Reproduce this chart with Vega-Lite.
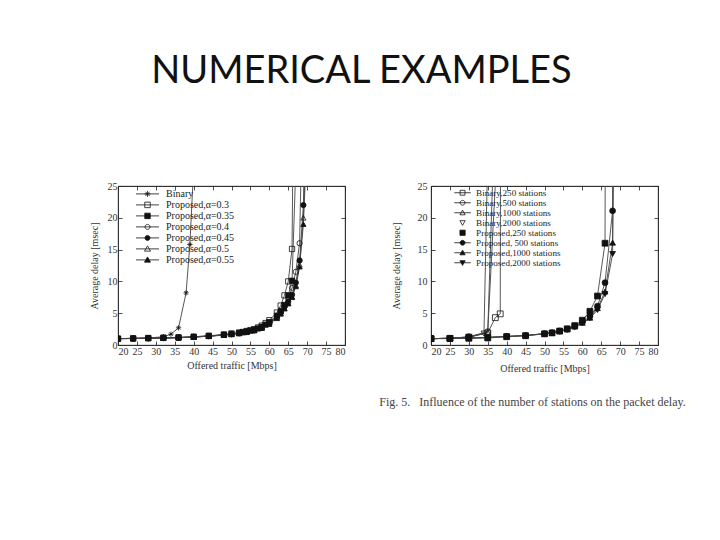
{
  "$schema": "https://vega.github.io/schema/vega-lite/v6.json",
  "background": "white",
  "padding": {"left": 88, "top": 52, "right": 0, "bottom": 0},
  "title": {"text": "NUMERICAL EXAMPLES", "font": "Lato", "fontSize": 38, "fontWeight": "normal", "color": "#111", "anchor": "middle", "offset": 90, "dx": -26},
  "spacing": 32,
  "config": {
    "view": {"stroke": "#222", "strokeWidth": 0.8},
    "axis": {"grid": false, "labelFont": "Liberation Serif", "titleFont": "Liberation Serif", "labelFontSize": 10, "titleFontSize": 10, "titleFontWeight": "normal", "labelColor": "#333", "titleColor": "#333", "domainColor": "#222", "domainWidth": 0.8, "tickColor": "#222", "tickWidth": 0.8, "tickSize": -4, "labelPadding": 5, "titlePadding": 4},
    "legend": {"labelFont": "Liberation Serif", "labelColor": "#222"}
  },
  "hconcat": [
    {
      "width": 227, "height": 159,
      "data": {"values": [
        {"s":"Binary","x":20,"y":1.0},{"s":"Binary","x":24,"y":1.05},{"s":"Binary","x":28,"y":1.1},{"s":"Binary","x":32,"y":1.3},{"s":"Binary","x":34,"y":1.7},{"s":"Binary","x":36,"y":2.7},{"s":"Binary","x":38,"y":8.2},{"s":"Binary","x":39,"y":15.8},{"s":"Binary","x":40,"y":28},
        {"s":"Proposed,α=0.3","x":20,"y":1.0},{"s":"Proposed,α=0.3","x":24,"y":1.05},{"s":"Proposed,α=0.3","x":28,"y":1.1},{"s":"Proposed,α=0.3","x":32,"y":1.15},{"s":"Proposed,α=0.3","x":36,"y":1.2},{"s":"Proposed,α=0.3","x":40,"y":1.3},{"s":"Proposed,α=0.3","x":44,"y":1.45},{"s":"Proposed,α=0.3","x":48,"y":1.65},{"s":"Proposed,α=0.3","x":50,"y":1.8},{"s":"Proposed,α=0.3","x":52,"y":1.95},{"s":"Proposed,α=0.3","x":53,"y":2.05},{"s":"Proposed,α=0.3","x":54,"y":2.2},{"s":"Proposed,α=0.3","x":55,"y":2.35},{"s":"Proposed,α=0.3","x":56,"y":2.5},{"s":"Proposed,α=0.3","x":57,"y":2.75},{"s":"Proposed,α=0.3","x":58,"y":3.05},{"s":"Proposed,α=0.3","x":59,"y":3.45},{"s":"Proposed,α=0.3","x":60,"y":3.9},{"s":"Proposed,α=0.3","x":62,"y":5.1},{"s":"Proposed,α=0.3","x":63,"y":6.2},{"s":"Proposed,α=0.3","x":64,"y":7.8},{"s":"Proposed,α=0.3","x":65,"y":10.0},{"s":"Proposed,α=0.3","x":66,"y":15.1},{"s":"Proposed,α=0.3","x":66.4,"y":40},
        {"s":"Proposed,α=0.35","x":20,"y":1.0},{"s":"Proposed,α=0.35","x":24,"y":1.03},{"s":"Proposed,α=0.35","x":28,"y":1.08},{"s":"Proposed,α=0.35","x":32,"y":1.12},{"s":"Proposed,α=0.35","x":36,"y":1.18},{"s":"Proposed,α=0.35","x":40,"y":1.28},{"s":"Proposed,α=0.35","x":44,"y":1.42},{"s":"Proposed,α=0.35","x":48,"y":1.62},{"s":"Proposed,α=0.35","x":50,"y":1.75},{"s":"Proposed,α=0.35","x":52,"y":1.9},{"s":"Proposed,α=0.35","x":53,"y":2.0},{"s":"Proposed,α=0.35","x":54,"y":2.12},{"s":"Proposed,α=0.35","x":55,"y":2.25},{"s":"Proposed,α=0.35","x":56,"y":2.4},{"s":"Proposed,α=0.35","x":57,"y":2.6},{"s":"Proposed,α=0.35","x":58,"y":2.85},{"s":"Proposed,α=0.35","x":59,"y":3.2},{"s":"Proposed,α=0.35","x":60,"y":3.6},{"s":"Proposed,α=0.35","x":62,"y":4.6},{"s":"Proposed,α=0.35","x":63,"y":5.3},{"s":"Proposed,α=0.35","x":64,"y":6.3},{"s":"Proposed,α=0.35","x":65,"y":7.8},{"s":"Proposed,α=0.35","x":66,"y":10.1},{"s":"Proposed,α=0.35","x":67,"y":28},
        {"s":"Proposed,α=0.4","x":20,"y":1.0},{"s":"Proposed,α=0.4","x":24,"y":1.03},{"s":"Proposed,α=0.4","x":28,"y":1.07},{"s":"Proposed,α=0.4","x":32,"y":1.1},{"s":"Proposed,α=0.4","x":36,"y":1.17},{"s":"Proposed,α=0.4","x":40,"y":1.27},{"s":"Proposed,α=0.4","x":44,"y":1.4},{"s":"Proposed,α=0.4","x":48,"y":1.6},{"s":"Proposed,α=0.4","x":50,"y":1.72},{"s":"Proposed,α=0.4","x":52,"y":1.87},{"s":"Proposed,α=0.4","x":54,"y":2.08},{"s":"Proposed,α=0.4","x":56,"y":2.35},{"s":"Proposed,α=0.4","x":58,"y":2.8},{"s":"Proposed,α=0.4","x":60,"y":3.5},{"s":"Proposed,α=0.4","x":62,"y":4.5},{"s":"Proposed,α=0.4","x":63,"y":5.2},{"s":"Proposed,α=0.4","x":64,"y":6.1},{"s":"Proposed,α=0.4","x":65,"y":7.3},{"s":"Proposed,α=0.4","x":66,"y":9.0},{"s":"Proposed,α=0.4","x":67,"y":11.5},{"s":"Proposed,α=0.4","x":68,"y":16.0},{"s":"Proposed,α=0.4","x":68.8,"y":40},
        {"s":"Proposed,α=0.45","x":20,"y":1.0},{"s":"Proposed,α=0.45","x":24,"y":1.02},{"s":"Proposed,α=0.45","x":28,"y":1.06},{"s":"Proposed,α=0.45","x":32,"y":1.1},{"s":"Proposed,α=0.45","x":36,"y":1.16},{"s":"Proposed,α=0.45","x":40,"y":1.26},{"s":"Proposed,α=0.45","x":44,"y":1.4},{"s":"Proposed,α=0.45","x":48,"y":1.58},{"s":"Proposed,α=0.45","x":50,"y":1.7},{"s":"Proposed,α=0.45","x":52,"y":1.85},{"s":"Proposed,α=0.45","x":54,"y":2.05},{"s":"Proposed,α=0.45","x":56,"y":2.32},{"s":"Proposed,α=0.45","x":58,"y":2.75},{"s":"Proposed,α=0.45","x":60,"y":3.4},{"s":"Proposed,α=0.45","x":62,"y":4.4},{"s":"Proposed,α=0.45","x":63,"y":5.1},{"s":"Proposed,α=0.45","x":64,"y":6.0},{"s":"Proposed,α=0.45","x":65,"y":6.8},{"s":"Proposed,α=0.45","x":66,"y":7.9},{"s":"Proposed,α=0.45","x":67,"y":9.8},{"s":"Proposed,α=0.45","x":68,"y":13.3},{"s":"Proposed,α=0.45","x":69,"y":22},{"s":"Proposed,α=0.45","x":69.6,"y":40},
        {"s":"Proposed,α=0.5","x":20,"y":1.0},{"s":"Proposed,α=0.5","x":24,"y":1.02},{"s":"Proposed,α=0.5","x":28,"y":1.05},{"s":"Proposed,α=0.5","x":32,"y":1.09},{"s":"Proposed,α=0.5","x":36,"y":1.15},{"s":"Proposed,α=0.5","x":40,"y":1.25},{"s":"Proposed,α=0.5","x":44,"y":1.38},{"s":"Proposed,α=0.5","x":48,"y":1.57},{"s":"Proposed,α=0.5","x":50,"y":1.68},{"s":"Proposed,α=0.5","x":52,"y":1.83},{"s":"Proposed,α=0.5","x":54,"y":2.03},{"s":"Proposed,α=0.5","x":56,"y":2.3},{"s":"Proposed,α=0.5","x":58,"y":2.7},{"s":"Proposed,α=0.5","x":60,"y":3.35},{"s":"Proposed,α=0.5","x":62,"y":4.3},{"s":"Proposed,α=0.5","x":63,"y":5.0},{"s":"Proposed,α=0.5","x":64,"y":5.8},{"s":"Proposed,α=0.5","x":65,"y":6.6},{"s":"Proposed,α=0.5","x":66,"y":7.6},{"s":"Proposed,α=0.5","x":67,"y":9.4},{"s":"Proposed,α=0.5","x":68,"y":12.6},{"s":"Proposed,α=0.5","x":69,"y":20},{"s":"Proposed,α=0.5","x":70,"y":36},
        {"s":"Proposed,α=0.55","x":20,"y":1.0},{"s":"Proposed,α=0.55","x":24,"y":1.02},{"s":"Proposed,α=0.55","x":28,"y":1.05},{"s":"Proposed,α=0.55","x":32,"y":1.08},{"s":"Proposed,α=0.55","x":36,"y":1.14},{"s":"Proposed,α=0.55","x":40,"y":1.24},{"s":"Proposed,α=0.55","x":44,"y":1.37},{"s":"Proposed,α=0.55","x":48,"y":1.55},{"s":"Proposed,α=0.55","x":50,"y":1.66},{"s":"Proposed,α=0.55","x":52,"y":1.81},{"s":"Proposed,α=0.55","x":54,"y":2.0},{"s":"Proposed,α=0.55","x":56,"y":2.27},{"s":"Proposed,α=0.55","x":58,"y":2.65},{"s":"Proposed,α=0.55","x":60,"y":3.3},{"s":"Proposed,α=0.55","x":62,"y":4.2},{"s":"Proposed,α=0.55","x":63,"y":4.9},{"s":"Proposed,α=0.55","x":64,"y":5.7},{"s":"Proposed,α=0.55","x":65,"y":6.5},{"s":"Proposed,α=0.55","x":66,"y":7.5},{"s":"Proposed,α=0.55","x":67,"y":9.2},{"s":"Proposed,α=0.55","x":68,"y":12.3},{"s":"Proposed,α=0.55","x":69,"y":19},{"s":"Proposed,α=0.55","x":70,"y":33}
      ]},
      "layer": [
        {
          "mark": {"type": "line", "clip": true, "color": "#444", "strokeWidth": 0.9},
          "encoding": {
            "x": {"field": "x", "type": "quantitative", "scale": {"domain": [20, 80], "nice": false, "zero": false}, "axis": {"values": [20,25,30,35,40,45,50,55,60,65,70,75,80], "title": "Offered traffic [Mbps]"}},
            "y": {"field": "y", "type": "quantitative", "scale": {"domain": [0, 25], "nice": false}, "axis": {"values": [0,5,10,15,20,25], "title": "Average delay [msec]", "titlePadding": 8}},
            "detail": {"field": "s"}
          }
        },
        {
          "mark": {"type": "point", "clip": true, "filled": true, "stroke": "#111", "strokeWidth": 0.8, "size": 28, "opacity": 1},
          "encoding": {
            "x": {"field": "x", "type": "quantitative", "axis": null},
            "y": {"field": "y", "type": "quantitative", "axis": null},
            "shape": {"field": "s", "type": "nominal", "legend": null, "scale": {"domain": ["Binary","Proposed,α=0.3","Proposed,α=0.35","Proposed,α=0.4","Proposed,α=0.45","Proposed,α=0.5","Proposed,α=0.55"], "range": ["M-1,0H1M0,-1V1M-0.7,-0.7L0.7,0.7M-0.7,0.7L0.7,-0.7","square","square","circle","circle","triangle-up","triangle-up"]}},
            "fill": {"field": "s", "type": "nominal", "legend": null, "scale": {"domain": ["Binary","Proposed,α=0.3","Proposed,α=0.35","Proposed,α=0.4","Proposed,α=0.45","Proposed,α=0.5","Proposed,α=0.55"], "range": ["#111","transparent","#111","transparent","#111","transparent","#111"]}}
          }
        },
        {
          "transform": [{"filter": "false"}],
          "mark": {"type": "point", "filled": true, "stroke": "#111", "strokeWidth": 0.8, "opacity": 1},
          "encoding": {
            "x": {"field": "x", "type": "quantitative", "axis": {"orient": "top", "labels": false, "title": null, "values": [20,25,30,35,40,45,50,55,60,65,70,75,80]}},
            "y": {"field": "y", "type": "quantitative", "axis": {"orient": "right", "labels": false, "title": null, "values": [0,5,10,15,20,25]}},
            "shape": {"field": "s", "type": "nominal",
              "scale": {"domain": ["Binary","Proposed,α=0.3","Proposed,α=0.35","Proposed,α=0.4","Proposed,α=0.45","Proposed,α=0.5","Proposed,α=0.55"], "range": [
                "M-2.3,0H2.3M-0.6,0H0.6M0,-0.6V0.6M-0.42,-0.42L0.42,0.42M-0.42,0.42L0.42,-0.42",
                "M-2.3,0H2.3M-0.55,-0.55H0.55V0.55H-0.55Z",
                "M-2.3,0H2.3M-0.55,-0.55H0.55V0.55H-0.55Z",
                "M-2.3,0H2.3M-0.5,0A0.5,0.5,0,1,0,0.5,0A0.5,0.5,0,1,0,-0.5,0Z",
                "M-2.3,0H2.3M-0.5,0A0.5,0.5,0,1,0,0.5,0A0.5,0.5,0,1,0,-0.5,0Z",
                "M-2.3,0H2.3M0,-0.6L0.6,0.45H-0.6Z",
                "M-2.3,0H2.3M0,-0.6L0.6,0.45H-0.6Z"]},
              "legend": {"title": null, "orient": "none", "legendX": 0, "legendY": 2.4, "padding": 0, "symbolSize": 100, "symbolOffset": 24, "labelOffset": 13, "rowPadding": 0.0, "labelFontSize": 10, "symbolStrokeWidth": 0.8, "encode": {"symbols": {"update": {"stroke": {"value": "#111"}, "strokeWidth": {"value": 0.8}, "opacity": {"value": 1}}}}}},
            "fill": {"field": "s", "type": "nominal",
              "scale": {"domain": ["Binary","Proposed,α=0.3","Proposed,α=0.35","Proposed,α=0.4","Proposed,α=0.45","Proposed,α=0.5","Proposed,α=0.55"], "range": ["#111","transparent","#111","transparent","#111","transparent","#111"]},
              "legend": {"title": null, "orient": "none", "legendX": 0, "legendY": 2.4, "padding": 0, "symbolSize": 100, "symbolOffset": 24, "labelOffset": 13, "rowPadding": 0.0, "labelFontSize": 10, "symbolStrokeWidth": 0.8, "encode": {"symbols": {"update": {"stroke": {"value": "#111"}, "strokeWidth": {"value": 0.8}, "opacity": {"value": 1}}}}}}
          }
        }
      ],
      "resolve": {"scale": {"shape": "independent", "fill": "independent"}, "axis": {"x": "independent", "y": "independent"}}
    },
    {
      "width": 227, "height": 159,
      "title": {"text": "Fig. 5.\u00a0\u00a0\u00a0Influence of the number of stations on the packet delay.", "orient": "bottom", "anchor": "middle", "font": "Liberation Serif", "fontSize": 12, "fontWeight": "normal", "color": "#444", "offset": 24, "dx": -12},
      "data": {"values": [
        {"s":"Binary,250 stations","x":20,"y":1.0},{"s":"Binary,250 stations","x":25,"y":1.05},{"s":"Binary,250 stations","x":30,"y":1.25},{"s":"Binary,250 stations","x":35,"y":1.9},{"s":"Binary,250 stations","x":37,"y":4.3},{"s":"Binary,250 stations","x":38.3,"y":4.9},{"s":"Binary,250 stations","x":38.4,"y":40},
        {"s":"Binary,500 stations","x":20,"y":1.0},{"s":"Binary,500 stations","x":25,"y":1.05},{"s":"Binary,500 stations","x":30,"y":1.3},{"s":"Binary,500 stations","x":35,"y":2.1},{"s":"Binary,500 stations","x":37.4,"y":30},
        {"s":"Binary,1000 stations","x":20,"y":1.0},{"s":"Binary,1000 stations","x":25,"y":1.05},{"s":"Binary,1000 stations","x":30,"y":1.2},{"s":"Binary,1000 stations","x":35,"y":2.0},{"s":"Binary,1000 stations","x":36.5,"y":30},
        {"s":"Binary,2000 stations","x":20,"y":1.0},{"s":"Binary,2000 stations","x":25,"y":1.05},{"s":"Binary,2000 stations","x":30,"y":1.25},{"s":"Binary,2000 stations","x":34,"y":1.8},{"s":"Binary,2000 stations","x":35,"y":30},
        {"s":"Proposed,250 stations","x":20,"y":1.0},{"s":"Proposed,250 stations","x":25,"y":1.0},{"s":"Proposed,250 stations","x":30,"y":1.05},{"s":"Proposed,250 stations","x":35,"y":1.1},{"s":"Proposed,250 stations","x":40,"y":1.3},{"s":"Proposed,250 stations","x":45,"y":1.45},{"s":"Proposed,250 stations","x":50,"y":1.75},{"s":"Proposed,250 stations","x":52,"y":1.9},{"s":"Proposed,250 stations","x":54,"y":2.2},{"s":"Proposed,250 stations","x":56,"y":2.55},{"s":"Proposed,250 stations","x":58,"y":3.05},{"s":"Proposed,250 stations","x":60,"y":3.9},{"s":"Proposed,250 stations","x":62,"y":5.3},{"s":"Proposed,250 stations","x":64,"y":7.7},{"s":"Proposed,250 stations","x":66,"y":16.0},{"s":"Proposed,250 stations","x":66.1,"y":40},
        {"s":"Proposed, 500 stations","x":20,"y":1.0},{"s":"Proposed, 500 stations","x":25,"y":1.05},{"s":"Proposed, 500 stations","x":30,"y":1.1},{"s":"Proposed, 500 stations","x":35,"y":1.2},{"s":"Proposed, 500 stations","x":40,"y":1.35},{"s":"Proposed, 500 stations","x":45,"y":1.5},{"s":"Proposed, 500 stations","x":50,"y":1.8},{"s":"Proposed, 500 stations","x":52,"y":1.95},{"s":"Proposed, 500 stations","x":54,"y":2.2},{"s":"Proposed, 500 stations","x":56,"y":2.5},{"s":"Proposed, 500 stations","x":58,"y":2.95},{"s":"Proposed, 500 stations","x":60,"y":3.6},{"s":"Proposed, 500 stations","x":62,"y":4.5},{"s":"Proposed, 500 stations","x":64,"y":6.1},{"s":"Proposed, 500 stations","x":66,"y":9.8},{"s":"Proposed, 500 stations","x":68,"y":21.1},{"s":"Proposed, 500 stations","x":68.2,"y":40},
        {"s":"Proposed,1000 stations","x":20,"y":1.0},{"s":"Proposed,1000 stations","x":25,"y":1.05},{"s":"Proposed,1000 stations","x":30,"y":1.1},{"s":"Proposed,1000 stations","x":35,"y":1.2},{"s":"Proposed,1000 stations","x":40,"y":1.35},{"s":"Proposed,1000 stations","x":45,"y":1.5},{"s":"Proposed,1000 stations","x":50,"y":1.78},{"s":"Proposed,1000 stations","x":52,"y":1.92},{"s":"Proposed,1000 stations","x":54,"y":2.15},{"s":"Proposed,1000 stations","x":56,"y":2.45},{"s":"Proposed,1000 stations","x":58,"y":2.9},{"s":"Proposed,1000 stations","x":60,"y":3.5},{"s":"Proposed,1000 stations","x":62,"y":4.3},{"s":"Proposed,1000 stations","x":64,"y":5.8},{"s":"Proposed,1000 stations","x":66,"y":8.4},{"s":"Proposed,1000 stations","x":68,"y":16.1},{"s":"Proposed,1000 stations","x":68.3,"y":40},
        {"s":"Proposed,2000 stations","x":20,"y":1.0},{"s":"Proposed,2000 stations","x":25,"y":1.05},{"s":"Proposed,2000 stations","x":30,"y":1.1},{"s":"Proposed,2000 stations","x":35,"y":1.2},{"s":"Proposed,2000 stations","x":40,"y":1.34},{"s":"Proposed,2000 stations","x":45,"y":1.48},{"s":"Proposed,2000 stations","x":50,"y":1.76},{"s":"Proposed,2000 stations","x":52,"y":1.9},{"s":"Proposed,2000 stations","x":54,"y":2.12},{"s":"Proposed,2000 stations","x":56,"y":2.4},{"s":"Proposed,2000 stations","x":58,"y":2.85},{"s":"Proposed,2000 stations","x":60,"y":3.4},{"s":"Proposed,2000 stations","x":62,"y":4.2},{"s":"Proposed,2000 stations","x":64,"y":5.5},{"s":"Proposed,2000 stations","x":66,"y":8.0},{"s":"Proposed,2000 stations","x":68,"y":14.3},{"s":"Proposed,2000 stations","x":68.4,"y":40}
      ]},
      "layer": [
        {
          "mark": {"type": "line", "clip": true, "color": "#444", "strokeWidth": 0.9},
          "encoding": {
            "x": {"field": "x", "type": "quantitative", "scale": {"domain": [20, 80], "nice": false, "zero": false}, "axis": {"values": [20,25,30,35,40,45,50,55,60,65,70,75,80], "title": "Offered traffic [Mbps]", "titlePadding": 7}},
            "y": {"field": "y", "type": "quantitative", "scale": {"domain": [0, 25], "nice": false}, "axis": {"values": [0,5,10,15,20,25], "title": "Average delay [msec]", "labelPadding": 8, "titlePadding": 16}},
            "detail": {"field": "s"}
          }
        },
        {
          "mark": {"type": "point", "clip": true, "filled": true, "stroke": "#111", "strokeWidth": 0.8, "size": 34, "opacity": 1},
          "encoding": {
            "x": {"field": "x", "type": "quantitative", "axis": null},
            "y": {"field": "y", "type": "quantitative", "axis": null},
            "shape": {"field": "s", "type": "nominal", "legend": null, "scale": {"domain": ["Binary,250 stations","Binary,500 stations","Binary,1000 stations","Binary,2000 stations","Proposed,250 stations","Proposed, 500 stations","Proposed,1000 stations","Proposed,2000 stations"], "range": ["square","circle","triangle-up","triangle-down","square","circle","triangle-up","triangle-down"]}},
            "fill": {"field": "s", "type": "nominal", "legend": null, "scale": {"domain": ["Binary,250 stations","Binary,500 stations","Binary,1000 stations","Binary,2000 stations","Proposed,250 stations","Proposed, 500 stations","Proposed,1000 stations","Proposed,2000 stations"], "range": ["transparent","transparent","transparent","transparent","#111","#111","#111","#111"]}}
          }
        },
        {
          "transform": [{"filter": "false"}],
          "mark": {"type": "point", "filled": true, "stroke": "#111", "strokeWidth": 0.8, "opacity": 1},
          "encoding": {
            "x": {"field": "x", "type": "quantitative", "axis": {"orient": "top", "labels": false, "title": null, "values": [20,25,30,35,40,45,50,55,60,65,70,75,80]}},
            "y": {"field": "y", "type": "quantitative", "axis": {"orient": "right", "labels": false, "title": null, "values": [0,5,10,15,20,25]}},
            "shape": {"field": "s", "type": "nominal",
              "scale": {"domain": ["Binary,250 stations","Binary,500 stations","Binary,1000 stations","Binary,2000 stations","Proposed,250 stations","Proposed, 500 stations","Proposed,1000 stations","Proposed,2000 stations"], "range": [
                "M-2.2,0H2.2M-0.65,-0.65H0.65V0.65H-0.65Z",
                "M-2.2,0H2.2M-0.65,0A0.65,0.65,0,1,0,0.65,0A0.65,0.65,0,1,0,-0.65,0Z",
                "M-2.2,0H2.2M0,-0.7L0.7,0.55H-0.7Z",
                "M0,0.7L0.7,-0.55H-0.7Z",
                "M-0.7,-0.7H0.7V0.7H-0.7Z",
                "M-2.2,0H2.2M-0.65,0A0.65,0.65,0,1,0,0.65,0A0.65,0.65,0,1,0,-0.65,0Z",
                "M-2.2,0H2.2M0,-0.7L0.7,0.55H-0.7Z",
                "M-2.2,0H2.2M0,0.7L0.7,-0.55H-0.7Z"]},
              "legend": {"title": null, "orient": "none", "legendX": 0, "legendY": 2.2, "padding": 0, "symbolSize": 56, "symbolOffset": 27, "labelOffset": 9, "rowPadding": -0.45, "labelFontSize": 9.1, "symbolStrokeWidth": 0.8, "encode": {"symbols": {"update": {"stroke": {"value": "#111"}, "strokeWidth": {"value": 0.8}, "opacity": {"value": 1}}}}}},
            "fill": {"field": "s", "type": "nominal",
              "scale": {"domain": ["Binary,250 stations","Binary,500 stations","Binary,1000 stations","Binary,2000 stations","Proposed,250 stations","Proposed, 500 stations","Proposed,1000 stations","Proposed,2000 stations"], "range": ["transparent","transparent","transparent","transparent","#111","#111","#111","#111"]},
              "legend": {"title": null, "orient": "none", "legendX": 0, "legendY": 2.2, "padding": 0, "symbolSize": 56, "symbolOffset": 27, "labelOffset": 9, "rowPadding": -0.45, "labelFontSize": 9.1, "symbolStrokeWidth": 0.8, "encode": {"symbols": {"update": {"stroke": {"value": "#111"}, "strokeWidth": {"value": 0.8}, "opacity": {"value": 1}}}}}}
          }
        }
      ],
      "resolve": {"scale": {"shape": "independent", "fill": "independent"}, "axis": {"x": "independent", "y": "independent"}}
    }
  ]
}
